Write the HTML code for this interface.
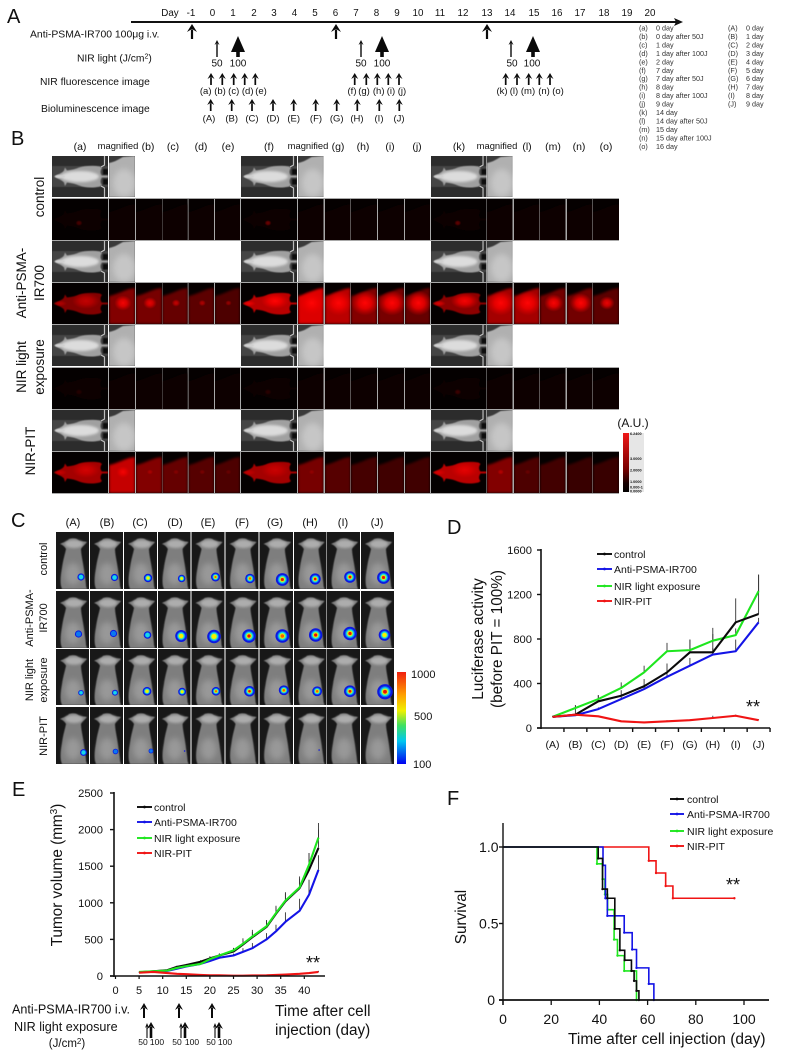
<!DOCTYPE html>
<html lang="en">
<head>
<meta charset="utf-8">
<title>Anti-PSMA-IR700 NIR-PIT figure</title>
<style>
html,body{margin:0;padding:0;background:#fff;}
svg#fig{display:block;font-family:"Liberation Sans",sans-serif;fill:#111;}
</style>
</head>
<body>
<svg id="fig" width="789" height="1050" viewBox="0 0 789 1050" xmlns="http://www.w3.org/2000/svg">
<defs>
<filter id="b1" x="-20%" y="-20%" width="140%" height="140%"><feGaussianBlur stdDeviation="0.6"/></filter>
<filter id="b2" x="-30%" y="-30%" width="160%" height="160%"><feGaussianBlur stdDeviation="1.4"/></filter>
<filter id="b3" x="-50%" y="-50%" width="200%" height="200%"><feGaussianBlur stdDeviation="3"/></filter>
<radialGradient id="hot"><stop offset="0" stop-color="#ff0505" stop-opacity="1"/><stop offset="0.45" stop-color="#f00000" stop-opacity="0.85"/><stop offset="1" stop-color="#e00000" stop-opacity="0"/></radialGradient>
<linearGradient id="ramp-a" x1="0" y1="0" x2="0" y2="1"><stop offset="0" stop-color="#f01818"/><stop offset="0.6" stop-color="#7a0000"/><stop offset="0.85" stop-color="#180000"/><stop offset="1" stop-color="#000"/></linearGradient>
<linearGradient id="ramp-c" x1="0" y1="0" x2="0" y2="1"><stop offset="0" stop-color="#f02010"/><stop offset="0.25" stop-color="#ffa000"/><stop offset="0.42" stop-color="#f0f000"/><stop offset="0.58" stop-color="#40e060"/><stop offset="0.75" stop-color="#00c8f0"/><stop offset="1" stop-color="#0000f0"/></linearGradient>
</defs>

<g id="layer-images"></g>

<!-- Panel A -->
<g>
<text x="7" y="23" font-size="20">A</text>
<g font-size="9.8" text-anchor="middle">
<text x="170" y="16">Day</text>
<text x="191" y="16">-1</text>
<text x="212.5" y="16">0</text>
<text x="233" y="16">1</text>
<text x="254" y="16">2</text>
<text x="274" y="16">3</text>
<text x="294.5" y="16">4</text>
<text x="315" y="16">5</text>
<text x="335.5" y="16">6</text>
<text x="356" y="16">7</text>
<text x="376.5" y="16">8</text>
<text x="397" y="16">9</text>
<text x="418" y="16">10</text>
<text x="440" y="16">11</text>
<text x="463" y="16">12</text>
<text x="487" y="16">13</text>
<text x="510" y="16">14</text>
<text x="534" y="16">15</text>
<text x="557" y="16">16</text>
<text x="580" y="16">17</text>
<text x="604" y="16">18</text>
<text x="627" y="16">19</text>
<text x="650" y="16">20</text>
</g>
<line x1="131" y1="22" x2="677" y2="22" stroke="#111" stroke-width="2"/>
<polygon points="674,18 683,22 674,26 676,22" fill="#111"/>
<text x="30" y="37.5" font-size="10.4">Anti-PSMA-IR700 100μg i.v.</text>
<text x="77" y="61.5" font-size="10.3">NIR light (J/cm<tspan dy="-3" font-size="7">2</tspan><tspan dy="3">)</tspan></text>
<text x="40" y="85" font-size="10.3">NIR fluorescence image</text>
<text x="41" y="112" font-size="10.3">Bioluminescence image</text>
<g font-size="10" text-anchor="middle">
<text x="217" y="66.5">50</text><text x="238" y="66.5">100</text>
<text x="361" y="66.5">50</text><text x="382" y="66.5">100</text>
<text x="512" y="66.5">50</text><text x="532" y="66.5">100</text>
</g>
<g font-size="9.5" text-anchor="middle">
<text x="205.7" y="94">(a)</text><text x="220" y="94">(b)</text><text x="233.7" y="94">(c)</text><text x="247.7" y="94">(d)</text><text x="261" y="94">(e)</text>
<text x="352" y="94">(f)</text><text x="364" y="94">(g)</text><text x="378.7" y="94">(h)</text><text x="391" y="94">(i)</text><text x="402" y="94">(j)</text>
<text x="502" y="94">(k)</text><text x="514" y="94">(l)</text><text x="528" y="94">(m)</text><text x="544" y="94">(n)</text><text x="558" y="94">(o)</text>
</g>
<g font-size="9.5" text-anchor="middle">
<text x="209" y="121.5">(A)</text><text x="231.7" y="121.5">(B)</text><text x="252" y="121.5">(C)</text><text x="273" y="121.5">(D)</text><text x="293.7" y="121.5">(E)</text><text x="316" y="121.5">(F)</text><text x="336.7" y="121.5">(G)</text><text x="357" y="121.5">(H)</text><text x="379" y="121.5">(I)</text><text x="399" y="121.5">(J)</text>
</g>
<g font-size="7.2" fill="#333">
<text x="639" y="30.5">(a)<tspan x="656">0 day</tspan></text>
<text x="639" y="39">(b)<tspan x="656">0 day after 50J</tspan></text>
<text x="639" y="47.4">(c)<tspan x="656">1 day</tspan></text>
<text x="639" y="55.9">(d)<tspan x="656">1 day after 100J</tspan></text>
<text x="639" y="64.3">(e)<tspan x="656">2 day</tspan></text>
<text x="639" y="72.8">(f)<tspan x="656">7 day</tspan></text>
<text x="639" y="81.2">(g)<tspan x="656">7 day after 50J</tspan></text>
<text x="639" y="89.7">(h)<tspan x="656">8 day</tspan></text>
<text x="639" y="98.1">(i)<tspan x="656">8 day after 100J</tspan></text>
<text x="639" y="106.6">(j)<tspan x="656">9 day</tspan></text>
<text x="639" y="115">(k)<tspan x="656">14 day</tspan></text>
<text x="639" y="123.5">(l)<tspan x="656">14 day after 50J</tspan></text>
<text x="639" y="131.9">(m)<tspan x="656">15 day</tspan></text>
<text x="639" y="140.4">(n)<tspan x="656">15 day after 100J</tspan></text>
<text x="639" y="148.8">(o)<tspan x="656">16 day</tspan></text>
</g>
<g font-size="7.2" fill="#333">
<text x="728" y="30.5">(A)<tspan x="746">0 day</tspan></text>
<text x="728" y="39">(B)<tspan x="746">1 day</tspan></text>
<text x="728" y="47.4">(C)<tspan x="746">2 day</tspan></text>
<text x="728" y="55.9">(D)<tspan x="746">3 day</tspan></text>
<text x="728" y="64.3">(E)<tspan x="746">4 day</tspan></text>
<text x="728" y="72.8">(F)<tspan x="746">5 day</tspan></text>
<text x="728" y="81.2">(G)<tspan x="746">6 day</tspan></text>
<text x="728" y="89.7">(H)<tspan x="746">7 day</tspan></text>
<text x="728" y="98.1">(I)<tspan x="746">8 day</tspan></text>
<text x="728" y="106.6">(J)<tspan x="746">9 day</tspan></text>
</g>
</g>

<!-- Panel B -->
<g>
<text x="11" y="145" font-size="20">B</text>
<g font-size="10.5" text-anchor="middle">
<text x="80" y="150">(a)</text>
<text x="118" y="149" font-size="9.4">magnified</text>
<text x="148" y="150">(b)</text>
<text x="173" y="150">(c)</text>
<text x="201" y="150">(d)</text>
<text x="228" y="150">(e)</text>
<text x="269" y="150">(f)</text>
<text x="308" y="149" font-size="9.4">magnified</text>
<text x="338" y="150">(g)</text>
<text x="363" y="150">(h)</text>
<text x="390" y="150">(i)</text>
<text x="417" y="150">(j)</text>
<text x="459" y="150">(k)</text>
<text x="497" y="149" font-size="9.4">magnified</text>
<text x="527" y="150">(l)</text>
<text x="553" y="150">(m)</text>
<text x="579" y="150">(n)</text>
<text x="606" y="150">(o)</text>
</g>
<g font-size="13.5" text-anchor="middle">
<text transform="translate(44 197) rotate(-90)">control</text>
<text transform="translate(26 283) rotate(-90)">Anti-PSMA-</text>
<text transform="translate(44 283) rotate(-90)">IR700</text>
<text transform="translate(26 367) rotate(-90)">NIR light</text>
<text transform="translate(44 367) rotate(-90)">exposure</text>
<text transform="translate(35 451) rotate(-90)">NIR-PIT</text>
</g>
<text x="633" y="427" font-size="12" text-anchor="middle">(A.U.)</text>
<rect x="629" y="433" width="15" height="59" fill="#e6e6e6"/>
<rect x="623" y="433" width="6" height="59" fill="url(#ramp-a)"/>
<g font-size="3.8" font-weight="bold">
<text x="630" y="435">6.2400</text>
<text x="630" y="460">3.0000</text>
<text x="630" y="471.5">2.0000</text>
<text x="630" y="483">1.0000</text>
<text x="630" y="488.5">0.000-1</text>
<text x="630" y="492.5">0.0000</text>
</g>
</g>

<!-- Panel C -->
<g>
<text x="11" y="527" font-size="20">C</text>
<g font-size="11" text-anchor="middle">
<text x="73" y="526">(A)</text>
<text x="107" y="526">(B)</text>
<text x="140" y="526">(C)</text>
<text x="175" y="526">(D)</text>
<text x="208" y="526">(E)</text>
<text x="242" y="526">(F)</text>
<text x="275" y="526">(G)</text>
<text x="310" y="526">(H)</text>
<text x="343" y="526">(I)</text>
<text x="377" y="526">(J)</text>
</g>
<g font-size="11" text-anchor="middle">
<text transform="translate(47 559) rotate(-90)">control</text>
<text transform="translate(33 618) rotate(-90)">Anti-PSMA-</text>
<text transform="translate(47 618) rotate(-90)">IR700</text>
<text transform="translate(33 680) rotate(-90)">NIR light</text>
<text transform="translate(47 680) rotate(-90)">exposure</text>
<text transform="translate(47 736) rotate(-90)">NIR-PIT</text>
</g>
<rect x="397" y="672" width="9" height="92" fill="url(#ramp-c)"/>
<g font-size="11">
<text x="411" y="678">1000</text>
<text x="414" y="720">500</text>
<text x="413" y="768">100</text>
</g>
</g>

<!-- Panel D static text -->
<g>
<text x="447" y="534" font-size="20">D</text>
<text transform="translate(483 639) rotate(-90)" font-size="15.3" text-anchor="middle">Luciferase activity</text>
<text transform="translate(502 639) rotate(-90)" font-size="15.3" text-anchor="middle">(before PIT = 100%)</text>
<g font-size="10.5">
<text x="614" y="558">control</text>
<text x="614" y="573">Anti-PSMA-IR700</text>
<text x="614" y="590">NIR light exposure</text>
<text x="614" y="605">NIR-PIT</text>
</g>
<text x="753" y="713" font-size="18" text-anchor="middle">**</text>
<g id="chart-d"></g>
</g>

<!-- Panel E static text -->
<g>
<text x="12" y="796" font-size="20">E</text>
<text transform="translate(62 875) rotate(-90)" font-size="15.3" text-anchor="middle">Tumor volume (mm<tspan dy="-5" font-size="10">3</tspan><tspan dy="5">)</tspan></text>
<g font-size="10.5">
<text x="154" y="811">control</text>
<text x="154" y="826">Anti-PSMA-IR700</text>
<text x="154" y="842">NIR light exposure</text>
<text x="154" y="857">NIR-PIT</text>
</g>
<text x="313" y="969" font-size="18" text-anchor="middle">**</text>
<text x="12" y="1013.5" font-size="12.6">Anti-PSMA-IR700 i.v.</text>
<text x="14" y="1031" font-size="12.6">NIR light exposure</text>
<text x="67" y="1047" font-size="11.5" text-anchor="middle">(J/cm<tspan dy="-3" font-size="8">2</tspan><tspan dy="3">)</tspan></text>
<text x="275" y="1016" font-size="15.3">Time after cell</text>
<text x="275" y="1035" font-size="15.3">injection (day)</text>
<g font-size="8.5" text-anchor="middle">
<text x="143" y="1045">50</text><text x="157" y="1045">100</text>
<text x="177" y="1045">50</text><text x="192" y="1045">100</text>
<text x="211" y="1045">50</text><text x="225" y="1045">100</text>
</g>
<g id="chart-e"></g>
</g>

<!-- Panel F static text -->
<g>
<text x="447" y="805" font-size="20">F</text>
<text transform="translate(466 917) rotate(-90)" font-size="15.3" text-anchor="middle">Survival</text>
<text x="568" y="1044" font-size="15.5">Time after cell injection (day)</text>
<g font-size="10.5">
<text x="687" y="803">control</text>
<text x="687" y="818">Anti-PSMA-IR700</text>
<text x="687" y="835">NIR light exposure</text>
<text x="687" y="850">NIR-PIT</text>
</g>
<text x="733" y="891" font-size="18" text-anchor="middle">**</text>
<g id="chart-f"></g>
</g>
<g id="arrows"></g>
</svg>

<script>
/* ---------- chart data ---------- */
const lucCategories = ['(A)','(B)','(C)','(D)','(E)','(F)','(G)','(H)','(I)','(J)'];
const lucTicks = [0,400,800,1200,1600];
const lucControl = [100,120,240,290,375,500,680,680,950,1025];
const lucAnti = [100,115,170,260,350,460,560,660,690,950];
const lucNir = [100,180,260,360,500,690,700,785,835,1230];
const lucPit = [100,120,105,60,50,60,70,90,110,70];
const lucControlSd = [5,85,55,50,65,80,115,220,215,350];
const lucAntiSd = [5,10,15,20,30,40,70,60,105,40];
const lucNirSd = [5,25,35,50,60,75,95,60,60,150];
const lucPitSd = [3,5,5,8,5,10,8,20,10,8];

const tumorDays = [5,8,11,13,15,18,20,22,25,27,29,32,34,36,39,41,43];
const tumorXTicks = [0,5,10,15,20,25,30,35,40];
const tumorYTicks = [0,500,1000,1500,2000,2500];
const tumorControl = [50,65,80,125,150,195,240,280,335,430,530,670,850,1020,1200,1450,1750];
const tumorAnti = [50,60,70,100,130,165,205,250,280,330,380,500,610,740,890,1110,1450];
const tumorNir = [55,65,75,110,135,165,230,280,350,440,540,680,860,1030,1210,1520,1890];
const tumorPit = [45,55,40,30,25,15,10,10,5,5,8,10,15,20,30,40,55];
const tumorControlSd = [5,5,10,15,15,20,30,30,50,85,100,95,110,125,160,230,250];
const tumorAntiSd = [5,5,5,10,10,10,15,15,25,50,70,85,90,130,165,205,200];
const tumorNirSd = [5,5,5,10,10,15,20,20,30,50,60,70,80,100,120,160,200];
const tumorPitSd = [3,3,3,3,3,3,3,3,3,3,3,3,5,5,8,10,15];

const survXTicks = [0,20,40,60,80,100];
const survYTicks = [0,0.5,1];
const survYLabels = ['0','0.5','1.0'];
const survControlT = [0,39.5,41.3,43.3,46.4,48.5,50.5,53.3,54.4,55.4,56.4];
const survControlS = [1,0.925,0.725,0.665,0.465,0.325,0.26,0.19,0.125,0.06,0];
const survAntiT = [0,41.5,42.5,43.3,50.3,53.6,55.4,60.5,62.6];
const survAntiS = [1,0.88,0.665,0.55,0.44,0.33,0.21,0.105,0];
const survNirT = [0,39,41.3,42.3,43.4,46.1,47.5,50.3,55.4];
const survNirS = [1,0.89,0.79,0.69,0.59,0.395,0.29,0.19,0];
const survPitT = [0,60.5,63.5,67.5,70.5];
const survPitS = [1,0.91,0.83,0.745,0.665];
const survPitEnd = 96;

/* ---------- helpers ---------- */
const NS = 'http://www.w3.org/2000/svg';
function el(tag, attrs, parent){
  const n = document.createElementNS(NS, tag);
  for (const k in attrs) n.setAttribute(k, attrs[k]);
  if (parent) parent.appendChild(n);
  return n;
}
const BLACK='#0a0a0a', BLUE='#1414e6', GREEN='#1ee61e', RED='#f01414';

function linePath(xs, ys){ return xs.map((x,i)=>(i?'L':'M')+x.toFixed(2)+','+ys[i].toFixed(2)).join(''); }

/* ---------- panel D ---------- */
const xLuc = i => 552.5 + i*22.9;
const yLuc = v => 728 - v*178/1600;
(function(){
  const g = document.getElementById('chart-d');
  const series = [
    {key:'nir',vals:lucNir,sd:lucNirSd,c:GREEN},
    {key:'anti',vals:lucAnti,sd:lucAntiSd,c:BLUE},
    {key:'control',vals:lucControl,sd:lucControlSd,c:BLACK},
    {key:'pit',vals:lucPit,sd:lucPitSd,c:RED}
  ];
  series.forEach(s=>{
    s.vals.forEach((v,i)=>{
      const e = el('line',{x1:xLuc(i),x2:xLuc(i),y1:yLuc(v),y2:yLuc(v+s.sd[i]),stroke:'#333','stroke-width':0.9},g);
      
      
    });
  });
  series.forEach(s=>{
    const p = el('path',{d:linePath(s.vals.map((v,i)=>xLuc(i)),s.vals.map(yLuc)),fill:'none',stroke:s.c,'stroke-width':2.1,'stroke-linejoin':'round'},g);
    
    
  });
  const ya = el('line',{x1:541,x2:541,y1:yLuc(1600)-1,y2:yLuc(0)+1,stroke:'#111','stroke-width':1.6},g);
  
  
  const xa = el('line',{x1:537,x2:xLuc(9.5),y1:yLuc(0),y2:yLuc(0),stroke:'#111','stroke-width':1.6},g);
  
  
  lucTicks.forEach(t=>{
    const m = el('line',{x1:537,x2:541,y1:yLuc(t),y2:yLuc(t),stroke:'#111','stroke-width':1.4},g);
    
    
    const l = el('text',{x:532,y:yLuc(t)+4,'font-size':11.2,'text-anchor':'end'},g);
    l.textContent = t;
    
    
  });
  lucCategories.forEach((c,i)=>{
    const m = el('line',{x1:xLuc(i+0.5),x2:xLuc(i+0.5),y1:yLuc(0),y2:yLuc(0)+4,stroke:'#111','stroke-width':1.4},g);
    
    
    const l = el('text',{x:xLuc(i),y:748,'font-size':10.5,'text-anchor':'middle'},g);
    l.textContent = c;
    
    
  });
})();

/* ---------- panel E ---------- */
const xTum = d => 115.5 + d*4.72;
const yTum = v => 976 - v*183/2500;
(function(){
  const g = document.getElementById('chart-e');
  const series = [
    {key:'anti',vals:tumorAnti,sd:tumorAntiSd,c:BLUE},
    {key:'control',vals:tumorControl,sd:tumorControlSd,c:BLACK},
    {key:'nir',vals:tumorNir,sd:tumorNirSd,c:GREEN},
    {key:'pit',vals:tumorPit,sd:tumorPitSd,c:RED}
  ];
  series.forEach(s=>{
    s.vals.forEach((v,i)=>{
      const e = el('line',{x1:xTum(tumorDays[i]),x2:xTum(tumorDays[i]),y1:yTum(v),y2:yTum(v+s.sd[i]),stroke:'#333','stroke-width':0.9},g);
      
      
    });
  });
  series.forEach(s=>{
    const p = el('path',{d:linePath(tumorDays.map(xTum),s.vals.map(yTum)),fill:'none',stroke:s.c,'stroke-width':2.1,'stroke-linejoin':'round'},g);
    
    
  });
  const ya = el('line',{x1:114,x2:114,y1:yTum(2500)-1,y2:yTum(0)+1,stroke:'#111','stroke-width':1.6},g);
  
  
  const xa = el('line',{x1:110,x2:325,y1:yTum(0),y2:yTum(0),stroke:'#111','stroke-width':1.6},g);
  
  
  tumorYTicks.forEach(t=>{
    const m = el('line',{x1:110,x2:114,y1:yTum(t),y2:yTum(t),stroke:'#111','stroke-width':1.4},g);
    
    
    const l = el('text',{x:103,y:yTum(t)+4,'font-size':11.2,'text-anchor':'end'},g);
    l.textContent = t;
    
    
  });
  tumorXTicks.forEach(t=>{
    const m = el('line',{x1:xTum(t),x2:xTum(t),y1:yTum(0),y2:yTum(0)+3,stroke:'#111','stroke-width':1.2},g);
    
    
    const l = el('text',{x:xTum(t),y:994,'font-size':11,'text-anchor':'middle'},g);
    l.textContent = t;
    
    
  });
})();

/* ---------- panel F ---------- */
const xSur = d => 503 + d*2.41;
const ySur = s => 1000 - s*153;
(function(){
  const g = document.getElementById('chart-f');
  function stepXY(ts, ss, end){
    const xs=[xSur(ts[0])], ys=[ySur(ss[0])];
    for(let i=1;i<ts.length;i++){
      xs.push(xSur(ts[i])); ys.push(ySur(ss[i-1]));
      xs.push(xSur(ts[i])); ys.push(ySur(ss[i]));
    }
    if(end!==undefined){ xs.push(xSur(end)); ys.push(ySur(ss[ss.length-1])); }
    return [xs,ys];
  }
  const series = [
    {key:'pit',t:survPitT,s:survPitS,c:RED,end:survPitEnd},
    {key:'nir',t:survNirT,s:survNirS,c:GREEN},
    {key:'anti',t:survAntiT,s:survAntiS,c:BLUE},
    {key:'control',t:survControlT,s:survControlS,c:BLACK}
  ];
  series.forEach(s=>{
    const xy = stepXY(s.t,s.s,s.end);
    const p = el('path',{d:linePath(xy[0],xy[1]),fill:'none',stroke:s.c,'stroke-width':1.6},g);
    
    
    s.t.forEach((t,i)=>{
      if(i===0) return;
      const d = el('circle',{cx:xSur(t),cy:ySur(s.s[i]),r:1.2,fill:s.c},g);
      
      
    });
    if(s.end!==undefined){
      const d = el('circle',{cx:xSur(s.end),cy:ySur(s.s[s.s.length-1]),r:1.2,fill:s.c},g);
      
      
    }
  });
  const ya = el('line',{x1:503,x2:503,y1:823,y2:1005,stroke:'#111','stroke-width':1.4},g);
  
  
  const xa = el('line',{x1:499,x2:769,y1:ySur(0),y2:ySur(0),stroke:'#111','stroke-width':1.8},g);
  
  
  survYTicks.forEach((t,i)=>{
    const m = el('line',{x1:499,x2:503,y1:ySur(t),y2:ySur(t),stroke:'#111','stroke-width':1.4},g);
    
    
    const l = el('text',{x:t===0?495:498.5,y:ySur(t)+5,'font-size':14,'text-anchor':'end'},g);
    l.textContent = survYLabels[i];
    
    
  });
  survXTicks.forEach(t=>{
    const m = el('line',{x1:xSur(t),x2:xSur(t),y1:ySur(0),y2:ySur(0)+5,stroke:'#111','stroke-width':1.3},g);
    
    
    const l = el('text',{x:xSur(t),y:1024,'font-size':14,'text-anchor':'middle'},g);
    l.textContent = t;
    
    
  });
})();

/* ---------- legend swatches ---------- */
(function(){
  const colours = [BLACK,BLUE,GREEN,RED];
  const legends = [
    {id:'chart-d',x1:597,x2:612,ys:[554,569,586,601]},
    {id:'chart-e',x1:137,x2:152,ys:[807,822,838,853]},
    {id:'chart-f',x1:670,x2:684,ys:[799,814,831,846]}
  ];
  legends.forEach(L=>{
    const g = document.getElementById(L.id);
    L.ys.forEach((y,i)=>{
      const s = el('line',{x1:L.x1,x2:L.x2,y1:y,y2:y,stroke:colours[i],'stroke-width':1.9},g);
      
      
      const d = el('circle',{cx:(L.x1+L.x2)/2,cy:y,r:1.4,fill:colours[i]},g);
      
      
    });
  });
})();

/* ---------- arrows ---------- */
(function(){
  const g = document.getElementById('arrows');
  function arrow(x,y1,y2,sw,hw,hh,name){
    const a = el('g',{},g);
    
    
    el('line',{x1:x,x2:x,y1:y1+hh*0.7,y2:y2,stroke:'#0a0a0a','stroke-width':sw},a);
    el('polygon',{points:(x-hw/2)+','+(y1+hh)+' '+x+','+y1+' '+(x+hw/2)+','+(y1+hh)+' '+x+','+(y1+hh*0.62),fill:'#0a0a0a'},a);
  }
  [192,336,487].forEach(x=>arrow(x,24,39,2.2,10,8,'anti-psma-injection-arrow'));
  [217,361,511].forEach(x=>arrow(x,40,57,1.4,5,5,'nir-50-arrow'));
  [238,382,533].forEach(x=>{
    const a = el('g',{},g);
    
    
    el('rect',{x:x-1.8,y:48,width:3.6,height:9,fill:'#0a0a0a'},a);
    el('polygon',{points:(x-7)+',52 '+x+',36 '+(x+7)+',52',fill:'#0a0a0a'},a);
  });
  [211,222.3,233.7,244.7,255.3,354.7,366.3,377.3,388.3,399,505.7,517,528.7,539.3,550].forEach(x=>arrow(x,73,85,1.7,7,6,'fluorescence-image-arrow'));
  [210.7,231.7,252,273,293.7,315.7,336.7,357.3,379.3,399.3].forEach(x=>arrow(x,99,111,1.7,7,6,'bioluminescence-image-arrow'));
  [144,179,212].forEach(x=>arrow(x,1003,1018,2,8,7,'e-injection-arrow'));
  [147,181,215].forEach(x=>arrow(x,1023,1038,1.1,4,5,'e-nir-50-arrow'));
  [151,185,219].forEach(x=>arrow(x,1022,1038,2.6,8,7,'e-nir-100-arrow'));
})();

/* ---------- panel B imagery ---------- */
const bCols = [
 {x:52,w:56},{x:109,w:26},{x:136,w:26},{x:162.3,w:25.5},{x:188.5,w:25.5},{x:215,w:25},
 {x:241,w:56},{x:298,w:25.5},{x:325,w:25.5},{x:351,w:26},{x:378,w:26},{x:405,w:25},
 {x:431,w:55.5},{x:487,w:25.5},{x:514,w:25.5},{x:540,w:25.5},{x:567,w:25.5},{x:593,w:26}
];
const bGrayRows = [156,241,325,410];
const bFluoRows = [199,283,368,452];
const bRowH = 41;
const bWash = [
 [.05,.015,.015,.015,.015,.015,.05,.015,.015,.015,.015,.02,.05,.02,.02,.02,.02,.02],
 [.55,.55,.5,.42,.38,.32,.8,.95,.8,.55,.5,.42,.6,.7,.7,.48,.48,.38],
 [.03,.02,.015,.015,.015,.015,.03,.02,.015,.015,.015,.015,.04,.03,.02,.02,.02,.02],
 [.7,.85,.55,.42,.36,.32,.7,.5,.36,.28,.26,.26,.8,.55,.32,.27,.22,.22]
];
const bHot = [
 [.25,0,0,0,0,0,.4,0,0,0,0,0,.35,0,0,0,0,0],
 [.5,.8,.7,.5,.4,.3,1,1,1,1,1,1,.9,1,1,.85,.9,.75],
 [.1,0,0,0,0,0,.12,0,0,0,0,0,.2,0,0,0,0,0],
 [.5,.7,.2,.1,.1,.05,.4,.1,0,0,0,0,.6,.3,.05,0,0,0]
];
const mouseBodyPath = 'M2,20.5 C6,18 10,17.5 12,14.5 L13,11.5 L15,14.5 C20,14 24,13 27,11.5 C33,9.5 42,9.5 48,10.5 L50,12 C48,14 48,18 50,19.5 L56,19.5 L56,21.5 L50,21.5 C48,24 48,27 50,29 L48,30.5 C42,32 33,32 27,29.5 C24,28 20,27 15,26.5 L13,30 L12,26.5 C10,24 6,23 2,20.5Z';

(function(){
  const root = document.getElementById('layer-images');
  function cell(x,y,w,h,vw,vh,name,parent){
    const s = el('svg',{x:x,y:y,width:w,height:h,viewBox:'0 0 '+vw+' '+vh,preserveAspectRatio:'none'},parent||root);
    
    
    return s;
  }
  bFluoRows.forEach(y=>{
    const r = el('rect',{x:52,y:y-1,width:567,height:bRowH+2,fill:'#a8a8a8'},root);
    
    
  });
  bGrayRows.forEach(y=>{
    [0,6,12].forEach(ci=>{
      const c = bCols[ci];
      const s = cell(c.x,y,c.w,bRowH,56,41,'whole-mouse-gray-image');
      el('rect',{width:56,height:41,fill:'#2c2c2c'},s);
      el('rect',{y:10,width:56,height:21,fill:'#444',filter:'url(#b1)'},s);
      el('path',{d:mouseBodyPath,fill:'#a0a0a0',filter:'url(#b1)'},s);
      el('ellipse',{cx:28,cy:20.5,rx:19,ry:5.5,fill:'#dcdcdc',filter:'url(#b2)'},s);
      el('ellipse',{cx:8,cy:20.5,rx:5,ry:1.6,fill:'#d0d0d0',filter:'url(#b1)'},s);
      el('path',{d:'M52.5,0 L52.5,9 L49,11 M52.5,41 L52.5,32 L49,30',stroke:'#bdbdbd','stroke-width':1.2,fill:'none'},s);
      el('rect',{x:51,y:13,width:5,height:5.5,fill:'#111',filter:'url(#b1)'},s);
      el('rect',{x:51,y:23,width:5,height:5.5,fill:'#111',filter:'url(#b1)'},s);
      const m = bCols[ci+1];
      const s2 = cell(m.x,y,m.w,bRowH,26,41,'magnified-gray-image');
      el('rect',{width:26,height:41,fill:'#3a3a3a'},s2);
      el('path',{d:'M0,7 C6,6 10,3 14,1 L26,0 L26,41 L0,41Z',fill:'#b0b0b0',filter:'url(#b1)'},s2);
      el('ellipse',{cx:15,cy:27,rx:11,ry:14,fill:'#c6c6c6',filter:'url(#b3)'},s2);
    });
  });
  bFluoRows.forEach((y,ri)=>{
    bCols.forEach((c,ci)=>{
      const wash = bWash[ri][ci], hot = bHot[ri][ci];
      const wide = (ci%6===0);
      const red = 'rgb('+Math.round(225*wash+6)+',0,0)';
      const s = cell(c.x,y,c.w,bRowH,wide?56:26,41,wide?'whole-mouse-fluorescence-image':'magnified-fluorescence-image');
      if(wide){
        el('rect',{width:56,height:41,fill:'#040000'},s);
        el('path',{d:mouseBodyPath,fill:red,filter:'url(#b1)'},s);
        if(hot>0){
          el('ellipse',{cx:ri%2?34:27,cy:ri%2?18:24,rx:ri%2?14:3.5,ry:ri%2?8:3,fill:'url(#hot)',opacity:hot},s);
          if(ri%2) el('ellipse',{cx:8,cy:20.5,rx:7,ry:3,fill:'url(#hot)',opacity:hot*0.7},s);
        }
      }else{
        el('rect',{width:26,height:41,fill:'#050000'},s);
        el('path',{d:'M0,13 C6,12 14,8 20,6 L26,5 L26,41 L0,41Z',fill:red,filter:'url(#b2)'},s);
        if(hot>0){
          const k = hot*hot*hot;
          el('ellipse',{cx:14,cy:20,rx:3+k*11,ry:2.5+k*10,fill:'url(#hot)',opacity:Math.min(1,hot+0.1)},s);
        }
      }
    });
  });
})();

/* ---------- panel C imagery ---------- */
const cColX = [56,90,124,158,191.5,225.5,259.5,294,327,361];
const cColW = [33,33,33,32.5,33,33,33.5,32.5,33,33];
const cRowY = [532,591,649,707];
const cRowH = [57,57,56,57];
const blobX = [
 [81,114.5,148,182,215.5,250,282,315.5,350,383.5],
 [78.5,113.5,147.5,181.5,214,249,282,316,350,384.5],
 [81,115,147,182.5,216,249.5,283.5,317.5,350,385],
 [83.5,115.5,151,185,0,0,0,319.5,0,0]
];
const blobY = [
 [577,577.5,578,578.5,577,578.5,579.5,579,577,577.5],
 [634,633.5,635,636,636.5,636,636,635,633.5,635],
 [693.5,693.5,692,692.5,692,692,691,692,692,692.5],
 [752.5,751.5,751,751,0,0,0,750,0,0]
];
const blobR = [
 [3.6,3.6,4.2,3.8,4.5,4.8,6.4,5.6,5.8,6.4],
 [3.6,3.6,3.8,6,6.8,6.8,6.8,6.8,6.8,5.8],
 [2.8,3,4.4,4,4.4,5.4,5,5,6,7.8],
 [3.4,2.8,2.4,0.8,0,0,0,0.8,0,0]
];
const blobPeak = [
 [.35,.45,.7,.7,.85,.85,1,1,1,1],
 [.25,.25,.35,.7,.8,.95,.85,1,1,.8],
 [.45,.5,.8,.75,.85,1,.9,.9,1,1],
 [.4,.3,.3,.15,0,0,0,.15,0,0]
];
const jetLevels = [
 {min:0,f:1,c:'#0c18e0'},
 {min:.2,f:.72,c:'#0a78f0'},
 {min:.3,f:.58,c:'#18d8e8'},
 {min:.5,f:.46,c:'#70f070'},
 {min:.62,f:.36,c:'#f8f000'},
 {min:.8,f:.26,c:'#f86000'},
 {min:.9,f:.22,c:'#e81008'}
];
(function(){
  const root = document.getElementById('layer-images');
  cRowY.forEach((y,ri)=>{
    cColX.forEach((x,ci)=>{
      const s = el('svg',{x:x,y:y,width:cColW[ci],height:cRowH[ri],viewBox:'0 0 33 57',preserveAspectRatio:'none'},root);
      
      
      el('rect',{width:33,height:57,fill:'#181818'},s);
      el('path',{d:'M4,12 C8,10 12,9 13,7 C17,6 20,6 22,8 C25,10 28,9 31,10 C29,13 26,14 25,17 C25,22 27,30 28,38 C29,46 30,50 30,54 L31,57 L6,57 L5,54 C4,48 5,42 6,36 C7,28 9,22 10,17 C9,15 7,13 4,12Z',fill:'#7e7e7e',filter:'url(#b1)'},s);
      el('ellipse',{cx:18,cy:12,rx:9,ry:4,fill:'#adadad',filter:'url(#b2)'},s);
      el('ellipse',{cx:17,cy:42,rx:8,ry:11,fill:'#989898',filter:'url(#b3)'},s);
      if(blobPeak[ri][ci]>0){
        const bx = blobX[ri][ci]-x, by = blobY[ri][ci]-y, r = blobR[ri][ci], pk = blobPeak[ri][ci];
        const b = el('g',{},s);
        
        
        jetLevels.forEach(l=>{
          if(pk>l.min) el('circle',{cx:bx,cy:by,r:r*l.f,fill:l.c},b);
        });
      }
    });
  });
})();
</script>
</body>
</html>
